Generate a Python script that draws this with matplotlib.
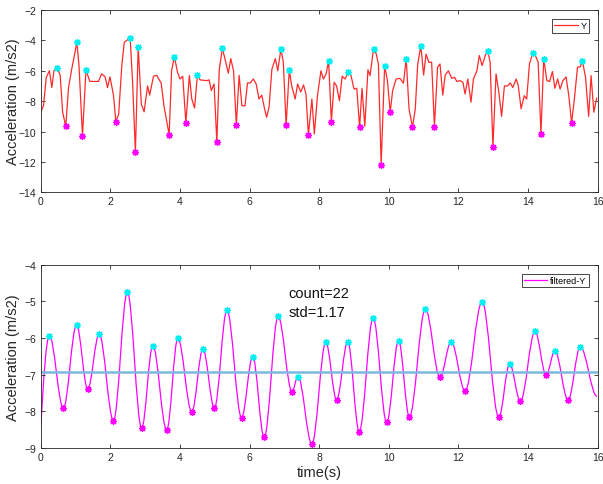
import numpy as np
import matplotlib
matplotlib.use("Agg")
import matplotlib.pyplot as plt
from matplotlib.path import Path
from matplotlib.patches import PathPatch
from matplotlib.lines import Line2D

plt.rcParams['font.family'] = ['Liberation Sans', 'DejaVu Sans']

# ---------------- raw signal (top) ----------------
raw_t = [0.00, 0.08, 0.16, 0.25, 0.32, 0.38, 0.48, 0.56, 0.63, 0.72, 0.80, 0.89,
         1.04, 1.10, 1.20, 1.30, 1.41, 1.66, 1.75, 1.85, 1.92, 1.99, 2.09, 2.16,
         2.24, 2.33, 2.40, 2.47, 2.57, 2.64, 2.72, 2.80, 2.89, 2.97, 3.07, 3.13,
         3.24, 3.33, 3.46, 3.54, 3.69, 3.76, 3.84, 3.93, 4.00, 4.08, 4.17, 4.27,
         4.34, 4.42, 4.50, 4.58, 4.77, 4.84, 4.90, 4.98, 5.06, 5.13, 5.22, 5.39,
         5.46, 5.54, 5.62, 5.70, 5.78, 5.87, 5.94, 6.02, 6.11, 6.19, 6.27, 6.35,
         6.43, 6.49, 6.56, 6.64, 6.74, 6.81, 6.90, 6.97, 7.05, 7.14, 7.21, 7.31,
         7.38, 7.47, 7.55, 7.62, 7.69, 7.79, 7.86, 7.95, 8.05, 8.12, 8.20, 8.27,
         8.35, 8.43, 8.50, 8.58, 8.66, 8.74, 8.84, 8.91, 9.00, 9.08, 9.16, 9.23,
         9.31, 9.40, 9.46, 9.56, 9.64, 9.70, 9.78, 9.88, 9.96, 10.04, 10.11, 10.21,
         10.32, 10.42, 10.50, 10.58, 10.68, 10.76, 10.83, 10.92, 11.00, 11.07, 11.15, 11.23,
         11.31, 11.40, 11.47, 11.55, 11.62, 11.71, 11.81, 11.89, 11.95, 12.05, 12.13, 12.19,
         12.27, 12.36, 12.43, 12.53, 12.60, 12.68, 12.77, 12.84, 12.91, 12.99, 13.08, 13.16,
         13.24, 13.32, 13.41, 13.49, 13.56, 13.66, 13.72, 13.80, 13.89, 13.96, 14.04, 14.13,
         14.21, 14.29, 14.37, 14.45, 14.54, 14.62, 14.70, 14.77, 14.85, 14.92, 15.00, 15.09,
         15.17, 15.25, 15.33, 15.42, 15.50, 15.56, 15.65, 15.74, 15.81, 15.89, 15.97]
raw_y = [-8.73, -8.30, -6.43, -6.00, -7.10, -6.00, -5.84, -6.30, -8.73, -9.65, -7.10, -5.90,
         -4.13, -5.66, -10.27, -5.95, -6.70, -6.70, -6.20, -6.40, -7.10, -6.40, -7.60, -9.35,
         -8.85, -5.66, -4.13, -4.00, -3.86, -6.76, -11.36, -4.41, -8.20, -8.70, -7.00, -7.60,
         -6.36, -6.30, -6.80, -8.30, -10.22, -6.00, -5.07, -6.10, -6.54, -6.36, -9.43, -6.32,
         -7.86, -8.45, -6.30, -6.60, -6.65, -6.60, -7.30, -6.87, -10.70, -5.90, -4.52, -6.15,
         -5.20, -6.00, -9.57, -6.30, -8.30, -8.30, -6.80, -6.80, -6.54, -6.87, -7.86, -7.60,
         -8.50, -9.06, -8.40, -5.90, -5.20, -6.00, -4.57, -5.44, -9.60, -5.95, -7.00, -7.86,
         -6.87, -7.40, -6.93, -7.53, -10.22, -7.86, -10.16, -7.64, -6.00, -6.54, -6.20, -5.33,
         -9.35, -6.76, -7.00, -7.97, -6.36, -6.54, -6.10, -6.28, -7.20, -7.15, -9.72, -7.15,
         -9.65, -5.93, -6.32, -4.57, -4.90, -5.55, -12.17, -5.66, -6.65, -8.73, -7.30, -6.54,
         -6.50, -6.82, -5.22, -8.50, -9.72, -8.50, -5.55, -4.35, -6.28, -4.90, -5.44, -5.44,
         -9.68, -5.77, -5.55, -7.60, -6.28, -6.00, -6.50, -6.43, -6.70, -6.65, -6.76, -7.53,
         -6.54, -8.07, -6.54, -6.00, -5.00, -5.66, -5.00, -4.68, -5.44, -10.99, -6.20, -7.40,
         -9.00, -7.00, -7.00, -6.80, -7.10, -6.54, -7.00, -8.50, -7.64, -7.86, -5.55, -4.85,
         -5.00, -5.44, -10.16, -5.22, -6.65, -6.70, -6.05, -7.15, -6.54, -7.20, -6.65, -6.40,
         -7.64, -9.43, -7.86, -5.77, -5.73, -5.33, -6.43, -9.00, -6.32, -8.73, -7.80]

raw_peak_t = [0.48, 1.04, 1.30, 2.57, 2.80, 3.84, 4.50, 5.22, 6.90, 7.14, 8.27, 8.84,
              9.56, 9.88, 10.50, 10.92, 12.84, 14.13, 14.45, 15.56]
raw_trough_t = [0.72, 1.20, 2.16, 2.72, 3.69, 4.17, 5.06, 5.62, 7.05, 7.69, 8.35, 9.16,
                9.78, 10.04, 10.68, 11.31, 12.99, 14.37, 15.25]

# ---------------- filtered signal (bottom): read turning points ----------------
filt_t = [0.00, 0.25, 0.65, 1.03, 1.35, 1.68, 2.09, 2.49, 2.90, 3.22, 3.62, 3.94,
          4.34, 4.66, 4.99, 5.35, 5.77, 6.09, 6.42, 6.82, 7.22, 7.39, 7.79, 8.19,
          8.50, 8.82, 9.15, 9.55, 9.94, 10.28, 10.59, 11.05, 11.47, 11.79, 12.19, 12.68,
          13.16, 13.47, 13.78, 14.20, 14.52, 14.77, 15.15, 15.50, 15.98]
filt_y = [-8.48, -5.94, -7.91, -5.65, -7.39, -5.89, -8.25, -4.75, -8.46, -6.21, -8.51, -6.01,
          -8.01, -6.30, -7.91, -5.24, -8.17, -6.51, -8.71, -5.41, -7.46, -7.05, -8.89, -6.12,
          -7.68, -6.10, -8.55, -5.45, -8.30, -6.07, -8.15, -5.21, -7.07, -6.10, -7.44, -5.01,
          -8.16, -6.71, -7.72, -5.82, -7.01, -6.35, -7.69, -6.24, -7.59]
filt_mean = -6.93
count_text = "count=22"
std_text = "std=1.17"

fig = plt.figure(figsize=(6.03, 4.85), dpi=100)
ax1 = fig.add_axes([0.0675, 0.6014, 0.9237, 0.3759])
ax2 = fig.add_axes([0.0675, 0.0742, 0.9237, 0.3780])

raw_t_a = np.array(raw_t)
raw_y_a = np.array(raw_y)
ax1.plot(raw_t_a, raw_y_a, color='#ff2a2a', lw=0.9, label='Y')
pk = [int(np.argmin(np.abs(raw_t_a - p))) for p in raw_peak_t]
tr = [int(np.argmin(np.abs(raw_t_a - p))) for p in raw_trough_t]
star = (8, 2, 0)
mk = dict(ls='none', marker=star, ms=5, mew=0.9)
ax1.plot(raw_t_a[pk], raw_y_a[pk], color='#00f0f0', **mk)
ax1.plot(raw_t_a[tr], raw_y_a[tr], color='#ff00ff', **mk)

# smooth curve through turning points using cubic Bezier segments
ft = np.array(filt_t)
fy = np.array(filt_y)
verts = [(ft[0], fy[0])]
codes = [Path.MOVETO]
for i in range(len(ft) - 1):
    d = ft[i + 1] - ft[i]
    if i == 0:
        c1 = (ft[i] + d / 3, fy[i] + (fy[i + 1] - fy[i]) * 0.55)
    else:
        c1 = (ft[i] + d * 0.36, fy[i])
    c2 = (ft[i + 1] - d * 0.36, fy[i + 1])
    verts += [c1, c2, (ft[i + 1], fy[i + 1])]
    codes += [Path.CURVE4] * 3
ax2.add_patch(PathPatch(Path(verts, codes), facecolor='none', edgecolor='#ff00ff', lw=0.9))
ax2.axhline(filt_mean, color='#7ab8e0', lw=1.8, zorder=1)
ax2.plot(ft[1:-1:2], fy[1:-1:2], color='#00f0f0', **mk)
ax2.plot(ft[2:-1:2], fy[2:-1:2], color='#ff00ff', **mk)
ax2.text(7.12, -4.78, count_text, fontsize=10.5, va='center', ha='left', color='#111111')
ax2.text(7.12, -5.30, std_text, fontsize=10.5, va='center', ha='left', color='#111111')

for ax in (ax1, ax2):
    ax.set_xlim(0, 16)
    ax.set_xticks(np.arange(0, 17, 2))
    ax.tick_params(direction='in', top=True, right=True, labelsize=7.5,
                   length=3, width=0.6, colors='#262626', pad=3)
    for s in ax.spines.values():
        s.set_color('#262626')
        s.set_linewidth(0.6)
    ax.set_ylabel('Acceleration (m/s2)', fontsize=10.5, color='#262626')
    ax.yaxis.set_label_coords(-0.037, 0.5)

ax1.set_ylim(-14, -2)
ax1.set_yticks(np.arange(-14, -1, 2))
ax2.set_ylim(-9, -4)
ax2.set_yticks(np.arange(-9, -3, 1))
ax2.set_xlabel('time(s)', fontsize=10.5, color='#262626', labelpad=2)

leg_kw = dict(loc='upper right', fontsize=6.5, fancybox=False, framealpha=1,
              edgecolor='#262626', borderpad=0.25, handlelength=2.6, handletextpad=0.3,
              borderaxespad=1.0)
l1 = ax1.legend(**leg_kw)
l1.get_frame().set_linewidth(0.6)
h2 = Line2D([], [], color='#ff00ff', lw=0.9)
l2 = ax2.legend([h2], ['filtered-Y'], **leg_kw)
l2.get_frame().set_linewidth(0.6)

fig.savefig('out.png', dpi=100)
